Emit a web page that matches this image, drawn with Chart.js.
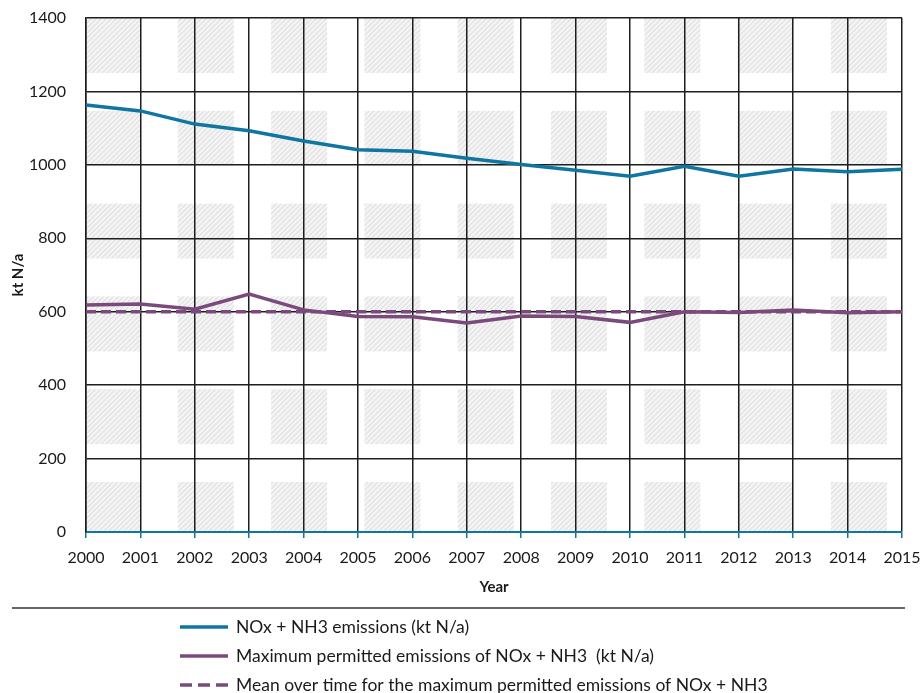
<!DOCTYPE html>
<html>
<head>
<meta charset="utf-8">
<script src="https://cdn.jsdelivr.net/npm/chart.js@4.4.1/dist/chart.umd.min.js"></script>
<style>
  html, body { margin: 0; padding: 0; background: #fff; }
</style>
</head>
<body>
<canvas id="chart" width="920" height="693"></canvas>
<script>
// values
const years = ['2000', '2001', '2002', '2003', '2004', '2005', '2006', '2007',
               '2008', '2009', '2010', '2011', '2012', '2013', '2014', '2015'];
const emissions = [1163, 1147, 1111, 1093, 1065, 1041, 1037, 1018,
                   1001, 985, 969, 996, 969, 989, 981, 988];
const maxPermitted = [618, 621, 607, 648, 605, 587, 586, 569,
                      588, 587, 571, 600, 598, 605, 597, 600];
const meanPermitted = [600, 600, 600, 600, 600, 600, 600, 600,
                       600, 600, 600, 600, 600, 600, 600, 600];
const yMin = 0;
const yMax = 1400;
const yStep = 200;

const seriesLabels = [
  'NOx + NH3 emissions (kt N/a)',
  'Maximum permitted emissions of NOx + NH3  (kt N/a)',
  'Mean over time for the maximum permitted emissions of NOx + NH3'
];

const BLUE = '#0e76a0';
const PURPLE = '#7a4a7c';
const GRID = '#1e1e1e';
const TEXT = '#1a1a1a';

// grey hatched squares behind the grid
const hatchPlugin = {
  id: 'hatch',
  beforeDraw(chart) {
    const { ctx, chartArea: a } = chart;
    const tile = document.createElement('canvas');
    tile.width = 5;
    tile.height = 5;
    const t = tile.getContext('2d');
    t.fillStyle = '#f5f5f5';
    t.fillRect(0, 0, 5, 5);
    t.strokeStyle = '#e3e3e3';
    t.lineWidth = 1.4;
    t.beginPath();
    t.moveTo(-1, 6); t.lineTo(6, -1);
    t.moveTo(-1, 1); t.lineTo(1, -1);
    t.moveTo(4, 6); t.lineTo(6, 4);
    t.stroke();
    const pat = ctx.createPattern(tile, 'repeat');

    ctx.save();
    ctx.beginPath();
    ctx.rect(a.left, a.top, a.width, a.height);
    ctx.clip();
    ctx.fillStyle = pat;
    for (let x = a.left - 1.5; x < a.right; x += 93.3) {
      for (let y = a.top; y < a.bottom; y += 92.8) {
        ctx.fillRect(x, y, 56, 55);
      }
    }
    ctx.restore();
  }
};

// legend under a separator line, one entry per row
const legendPlugin = {
  id: 'bottomLegend',
  afterDraw(chart) {
    const ctx = chart.ctx;
    ctx.save();
    ctx.strokeStyle = '#333';
    ctx.lineWidth = 1.5;
    ctx.beginPath();
    ctx.moveTo(12, 608);
    ctx.lineTo(905, 608);
    ctx.stroke();

    chart.data.datasets.forEach((ds, i) => {
      const y = 627 + i * 29;
      ctx.strokeStyle = ds.borderColor;
      ctx.lineWidth = ds.borderWidth;
      ctx.setLineDash(ds.borderDash ? [12, 6] : []);
      ctx.beginPath();
      ctx.moveTo(180, y);
      ctx.lineTo(228, y);
      ctx.stroke();
      ctx.setLineDash([]);
      ctx.fillStyle = TEXT;
      ctx.font = '17.5px Lato';
      ctx.textBaseline = 'middle';
      ctx.fillText(ds.label, 236, y);
    });
    ctx.restore();
  }
};

const ctx = document.getElementById('chart').getContext('2d');
new Chart(ctx, {
  type: 'line',
  data: {
    labels: years,
    datasets: [
      {
        label: seriesLabels[0],
        data: emissions,
        borderColor: BLUE,
        borderWidth: 3.5,
        pointRadius: 0,
        tension: 0
      },
      {
        label: seriesLabels[1],
        data: maxPermitted,
        borderColor: PURPLE,
        borderWidth: 3.5,
        pointRadius: 0,
        tension: 0
      },
      {
        label: seriesLabels[2],
        data: meanPermitted,
        borderColor: PURPLE,
        borderWidth: 3.5,
        borderDash: [10, 5],
        pointRadius: 0,
        tension: 0
      }
    ]
  },
  options: {
    responsive: false,
    animation: false,
    layout: { padding: { top: 18, left: 0, right: 18, bottom: 91 } },
    plugins: {
      legend: { display: false },
      tooltip: { enabled: false }
    },
    scales: {
      x: {
        type: 'category',
        offset: false,
        afterFit: (scale) => {
          scale.height = 70;
          scale.paddingLeft = 0;
          scale.paddingRight = 0;
        },
        grid: {
          color: GRID,
          lineWidth: 1.5,
          tickColor: BLUE,
          tickLength: 6
        },
        border: { color: BLUE, width: 2 },
        ticks: {
          color: TEXT,
          font: { family: 'Lato', size: 16 },
          padding: 10,
          maxRotation: 0,
          autoSkip: false
        },
        title: {
          display: true,
          text: 'Year',
          color: TEXT,
          font: { family: 'Lato', size: 15, weight: 'bold' },
          padding: { top: 0, bottom: 6 }
        }
      },
      y: {
        min: yMin,
        max: yMax,
        afterFit: (scale) => {
          scale.width = 86;
          scale.paddingTop = 0;
          scale.paddingBottom = 0;
        },
        grid: {
          color: (c) => (c.tick && c.tick.value === 0 ? 'rgba(0,0,0,0)' : GRID),
          lineWidth: 1.5,
          drawTicks: false
        },
        border: { color: GRID, width: 1.5 },
        ticks: {
          stepSize: yStep,
          color: TEXT,
          font: { family: 'Lato', size: 16 },
          padding: 20,
          callback: (v) => String(v)
        },
        title: {
          display: true,
          text: 'kt N/a',
          color: TEXT,
          font: { family: 'Lato', size: 15, weight: 'bold' },
          padding: { top: 9, bottom: 0 }
        }
      }
    }
  },
  plugins: [hatchPlugin, legendPlugin]
});
</script>
</body>
</html>
